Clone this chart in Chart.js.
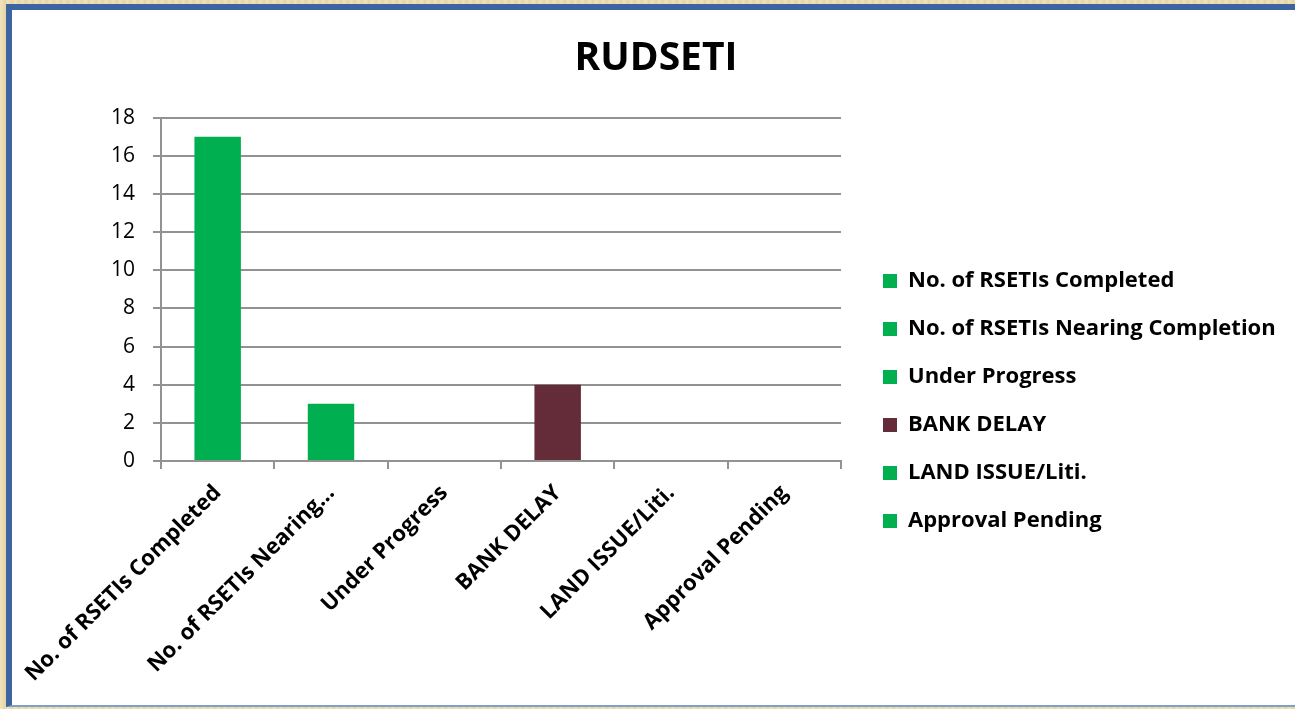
<!DOCTYPE html>
<html>
<head>
<meta charset="utf-8">
<script src="https://cdn.jsdelivr.net/npm/chart.js@4"></script>
<style>
  html, body { margin: 0; padding: 0; width: 1295px; height: 709px; overflow: hidden; }
  body {
    background:
      repeating-linear-gradient(90deg, rgba(255,255,255,0.18) 0px, rgba(255,255,255,0) 3px, rgba(180,150,90,0.12) 5px, rgba(255,255,255,0) 7px),
      #ecdcb0;
  }
  #frame {
    position: absolute; left: 6px; top: 4px; width: 1300px; height: 703px;
    background: #ffffff;
    border-left: 6px solid #3b64a1; border-top: 6px solid #3b64a1;
    border-bottom: 2px solid #7d9fcc;
    box-sizing: border-box;
  }
  #c { position: absolute; left: 0; top: 0; }
</style>
</head>
<body>
<div id="frame"></div>
<canvas id="c" width="1295" height="709"></canvas>
<script>
const categories = ["No. of RSETIs Completed", "No. of RSETIs Nearing Completion", "Under Progress", "BANK DELAY", "LAND ISSUE/Liti.", "Approval Pending"];
const tickLabels = ["No. of RSETIs Completed", "No. of RSETIs Nearing...", "Under Progress", "BANK DELAY", "LAND ISSUE/Liti.", "Approval Pending"];
const values = [17, 3, 0, 4, 0, 0];
const barColors = ["#00b050", "#00b050", "#00b050", "#632c38", "#00b050", "#00b050"];
const yTicks = [0, 2, 4, 6, 8, 10, 12, 14, 16, 18];
const chartTitle = "RUDSETI";

const FONT = "'Open Sans', Lato, sans-serif";
const GRID = "#929292";

const layoutShift = {
  id: 'layoutShift',
  afterLayout(chart) {
    const lg = chart.legend;
    if (lg) {
      const w = Math.max(lg.width, 435);
      lg.left = 857; lg.right = 857 + w; lg.width = w;
      lg.top = 93; lg.bottom = 709; lg.height = 709 - 93;
    }
    const tb = chart.titleBlock;
    if (tb) {
      const half = 300;
      tb.left = 656 - half; tb.right = 656 + half; tb.width = 2 * half;
    }
  }
};

new Chart(document.getElementById('c'), {
  type: 'bar',
  data: {
    labels: tickLabels,
    datasets: [{
      label: chartTitle,
      data: values,
      backgroundColor: barColors,
      borderWidth: 0,
      categoryPercentage: 1.0,
      barPercentage: 0.41
    }]
  },
  options: {
    responsive: false,
    animation: false,
    devicePixelRatio: 1,
    layout: { padding: { left: 18, top: 0, right: 74, bottom: 0 } },
    plugins: {
      title: {
        display: true,
        text: chartTitle,
        color: '#000000',
        font: { family: FONT, size: 39, weight: 'bold', lineHeight: 1.2 },
        padding: { top: 35, bottom: 36 }
      },
      legend: {
        display: true,
        position: 'right',
        align: 'center',
        maxWidth: 380,
        labels: {
          boxWidth: 14,
          boxHeight: 14,
          padding: 26,
          color: '#000000',
          font: { family: FONT, size: 22, weight: 'bold' },
          generateLabels: () => categories.map((c, i) => ({
            text: c,
            fillStyle: barColors[i],
            strokeStyle: barColors[i],
            lineWidth: 0,
            hidden: false,
            index: i,
            fontColor: '#000000'
          }))
        },
        onClick: () => {}
      },
      tooltip: { enabled: false }
    },
    scales: {
      x: {
        grid: {
          display: true,
          drawOnChartArea: false,
          drawTicks: true,
          tickLength: 8,
          color: GRID,
          lineWidth: 2,
          offset: true
        },
        border: { display: true, color: GRID, width: 2 },
        ticks: {
          autoSkip: false,
          maxRotation: 45,
          minRotation: 45,
          padding: 11,
          color: '#000000',
          font: { family: FONT, size: 22, weight: 'bold' }
        },
        afterFit(scale) { scale.height = 248; scale.paddingLeft = 0; scale.paddingRight = 0; }
      },
      y: {
        min: 0,
        max: 18,
        afterBuildTicks(scale) { scale.ticks = yTicks.map(v => ({ value: v })); },
        grid: {
          display: true,
          drawOnChartArea: true,
          drawTicks: true,
          tickLength: 8,
          color: GRID,
          lineWidth: 2
        },
        border: { display: true, color: GRID, width: 2 },
        ticks: {
          padding: 18,
          color: '#000000',
          font: { family: FONT, size: 21 }
        },
        afterFit(scale) { scale.width = 143; scale.paddingTop = 0; scale.paddingBottom = 0; }
      }
    }
  },
  plugins: [layoutShift]
});
</script>
</body>
</html>
